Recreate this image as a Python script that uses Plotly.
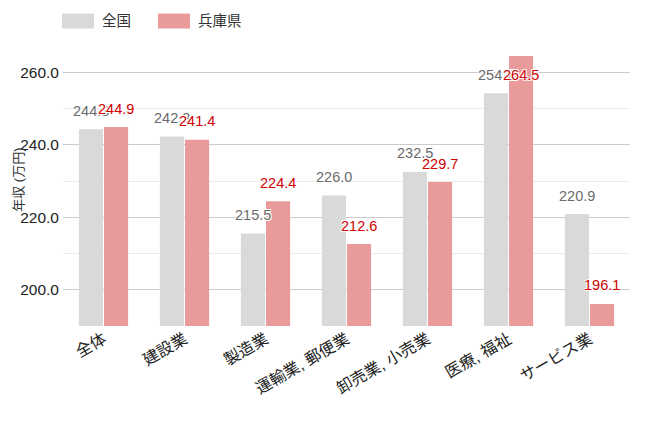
import plotly.graph_objects as go

categories = ["全体", "建設業", "製造業", "運輸業, 郵便業", "卸売業, 小売業", "医療, 福祉", "サービス業"]
national = [244.3, 242.3, 215.5, 226.0, 232.5, 254.2, 220.9]
hyogo = [244.9, 241.4, 224.4, 212.6, 229.7, 264.5, 196.1]
series_names = ["全国", "兵庫県"]
y_title = "年収 (万円)"

bar_colors = ["#d9d9d9", "#e99a9a"]
label_colors = ["#6b6b6b", "#d00000"]
FONT = "Liberation Sans, Arial, Noto Sans CJK JP, sans-serif"
Y_RANGE = [190, 264.5]
LABEL_CAP = 254.2  # labels are kept inside the plot area

# page body has an 8px margin: figure is sized to fill the rest of the window
PAGE_OFF = 8
PLOT_L, PLOT_R, PLOT_T, PLOT_B = 63, 630, 55.5, 326
PW, PH = PLOT_R - PLOT_L, PLOT_B - PLOT_T

fig = go.Figure()
for name, vals, c in zip(series_names, [national, hyogo], bar_colors):
    fig.add_trace(go.Bar(x=categories, y=vals, name=name, marker=dict(color=c, line=dict(width=0)),
                         showlegend=False, hoverinfo="x+y"))

shadow = "-1px -1px 0 #fff, 1px -1px 0 #fff, -1px 1px 0 #fff, 1px 1px 0 #fff"
offsets = [-12.5, 12.5]
for vals, col, dx in zip([national, hyogo], label_colors, offsets):
    for cat, v in zip(categories, vals):
        fig.add_annotation(x=cat, y=min(v, LABEL_CAP), text=f"{v:.1f}", showarrow=False, xshift=dx, yshift=18.5,
                           yanchor="middle", xanchor="center",
                           font=dict(family=FONT, size=14.5, color=col, shadow=shadow))

# legend (drawn as boxes with text)
leg_x = [62, 158]
for name, c, lx in zip(series_names, bar_colors, leg_x):
    fig.add_shape(type="rect", xref="paper", yref="paper",
                  x0=(lx - PLOT_L) / PW, x1=(lx + 32 - PLOT_L) / PW,
                  y0=(PLOT_B - 28) / PH, y1=(PLOT_B - 13) / PH,
                  fillcolor=c, line=dict(width=0))
    fig.add_annotation(xref="paper", yref="paper", x=(lx + 38 - PLOT_L) / PW, y=(PLOT_B - 20.5) / PH,
                       text=name, showarrow=False, xanchor="left", yanchor="middle",
                       font=dict(family=FONT, size=14.5, color="#333"))

# y-axis title
fig.add_annotation(xref="paper", yref="paper", x=(PAGE_OFF + 1 - PLOT_L) / PW, y=(PLOT_B - 180) / PH,
                   text=y_title, textangle=-90, showarrow=False, xanchor="left", yanchor="middle",
                   font=dict(family=FONT, size=13, color="#333"))

W, H = 652 - PAGE_OFF, 424 - PAGE_OFF
fig.update_layout(
    width=W, height=H,
    margin=dict(l=PLOT_L - PAGE_OFF, r=652 - PLOT_R, t=PLOT_T - PAGE_OFF, b=424 - PLOT_B, autoexpand=False),
    barmode="group", bargap=0.38, bargroupgap=0.04,
    plot_bgcolor="#fff", paper_bgcolor="#fff",
    font=dict(family=FONT, color="#333"),
    showlegend=False,
)
fig.update_yaxes(range=Y_RANGE, tickformat=".1f", dtick=20, tick0=200, automargin=False,
                 showgrid=True, gridcolor="#cccccc", gridwidth=1, zeroline=False,
                 showline=False, ticks="", tickfont=dict(size=15.5, color="#222"), ticklabelstandoff=3,
                 minor=dict(dtick=10, tick0=200, showgrid=True, gridcolor="#ebebeb", gridwidth=1))
fig.update_xaxes(tickangle=-30, tickfont=dict(size=16, color="#222"), showline=False, ticks="",
                 showgrid=False, automargin=False)

fig.write_html("out.html")
